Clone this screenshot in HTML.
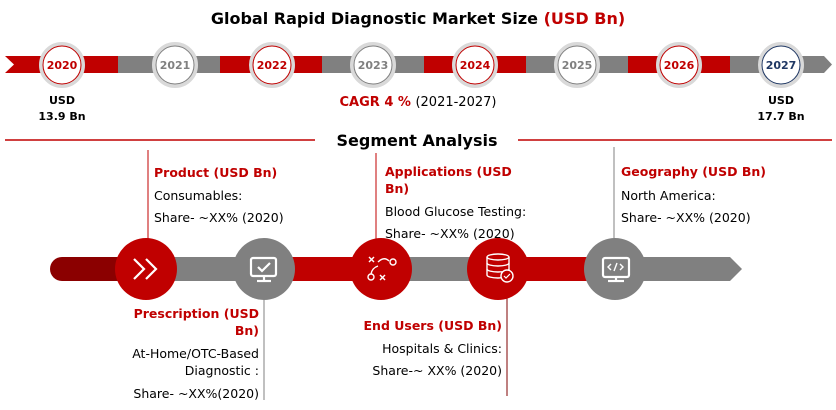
<!DOCTYPE html>
<html><head><meta charset="utf-8"><style>
body{margin:0;background:#fff;}
svg text{font-family:"DejaVu Sans","Liberation Sans",sans-serif;}
</style></head><body>
<svg width="836" height="405" viewBox="0 0 836 405" xmlns="http://www.w3.org/2000/svg">
<text x="418" y="24" text-anchor="middle" font-size="16" font-weight="bold" fill="#000">Global Rapid Diagnostic Market Size <tspan fill="#c00000">(USD Bn)</tspan></text>
<polygon points="5,56 118,56 118,73 5,73 14,64.5" fill="#c00000"/>
<rect x="118" y="56" width="102" height="17" fill="#808080"/>
<rect x="220" y="56" width="102" height="17" fill="#c00000"/>
<rect x="322" y="56" width="102" height="17" fill="#808080"/>
<rect x="424" y="56" width="102" height="17" fill="#c00000"/>
<rect x="526" y="56" width="102" height="17" fill="#808080"/>
<rect x="628" y="56" width="102" height="17" fill="#c00000"/>
<polygon points="730,56 824,56 832,64.5 824,73 730,73" fill="#808080"/>
<g font-size="11" font-weight="bold" text-anchor="middle">
<g fill="#fff" stroke="#d9d9d9" stroke-width="4">
<circle cx="62" cy="65" r="21"/><circle cx="175" cy="65" r="21"/><circle cx="272" cy="65" r="21"/><circle cx="373" cy="65" r="21"/>
<circle cx="475" cy="65" r="21"/><circle cx="577" cy="65" r="21"/><circle cx="679" cy="65" r="21"/><circle cx="781" cy="65" r="21"/>
</g>
<g fill="none" stroke-width="1">
<circle cx="62" cy="65" r="19" stroke="#c00000"/><circle cx="175" cy="65" r="19" stroke="#808080"/><circle cx="272" cy="65" r="19" stroke="#c00000"/><circle cx="373" cy="65" r="19" stroke="#808080"/>
<circle cx="475" cy="65" r="19" stroke="#c00000"/><circle cx="577" cy="65" r="19" stroke="#808080"/><circle cx="679" cy="65" r="19" stroke="#c00000"/><circle cx="781" cy="65" r="19" stroke="#203864"/>
</g>
<text x="62" y="69" fill="#c00000">2020</text><text x="175" y="69" fill="#808080">2021</text>
<text x="272" y="69" fill="#c00000">2022</text><text x="373" y="69" fill="#808080">2023</text>
<text x="475" y="69" fill="#c00000">2024</text><text x="577" y="69" fill="#808080">2025</text>
<text x="679" y="69" fill="#c00000">2026</text><text x="781" y="69" fill="#203864">2027</text>
<text x="62" y="104" fill="#000">USD</text><text x="62" y="120" fill="#000">13.9 Bn</text>
<text x="781" y="104" fill="#000">USD</text><text x="781" y="120" fill="#000">17.7 Bn</text>
</g>
<text x="418" y="106" text-anchor="middle" font-size="13"><tspan font-weight="bold" fill="#c00000">CAGR 4 % </tspan><tspan fill="#000">(2021-2027)</tspan></text>
<line x1="5" y1="140" x2="315" y2="140" stroke="#c00000" stroke-width="1.5"/>
<line x1="518" y1="140" x2="832" y2="140" stroke="#c00000" stroke-width="1.5"/>
<text x="417" y="146" text-anchor="middle" font-size="16" font-weight="bold" fill="#000">Segment Analysis</text>
<g stroke-width="1">
<line x1="148" y1="150" x2="148" y2="240" stroke="#c00000"/>
<line x1="376" y1="153" x2="376" y2="240" stroke="#c00000"/>
<line x1="614" y1="147" x2="614" y2="240" stroke="#808080"/>
<line x1="264" y1="298" x2="264" y2="400" stroke="#808080"/>
<line x1="507" y1="298" x2="507" y2="396" stroke="#7f0000"/>
</g>
<rect x="50" y="257" width="100" height="24" rx="12" fill="#8b0000"/>
<rect x="146" y="257" width="118" height="24" fill="#808080"/>
<rect x="264" y="257" width="117" height="24" fill="#c00000"/>
<rect x="381" y="257" width="117" height="24" fill="#808080"/>
<rect x="498" y="257" width="117" height="24" fill="#c00000"/>
<polygon points="615,257 730,257 742,269 730,281 615,281" fill="#808080"/>
<circle cx="146" cy="269" r="31" fill="#c00000"/>
<circle cx="264" cy="269" r="31" fill="#808080"/>
<circle cx="381" cy="269" r="31" fill="#c00000"/>
<circle cx="498" cy="269" r="31" fill="#c00000"/>
<circle cx="615" cy="269" r="31" fill="#808080"/>
<g stroke="#fff" stroke-width="2.2" fill="none">
<polyline points="134,259 144,269 134,279"/><polyline points="146,259 156,269 146,279"/>
<rect x="251" y="258" width="25" height="18" rx="2"/><line x1="264" y1="276" x2="264" y2="281"/><line x1="257" y1="281" x2="271" y2="281"/>
<polyline points="258,267 262,271 270,263"/>
<rect x="603" y="258" width="26" height="19" rx="2"/><line x1="616" y1="277" x2="616" y2="281"/><line x1="608" y1="281" x2="624" y2="281"/>
</g>
<g stroke="#fff" stroke-width="1.4" fill="none">
<polyline points="611,264 608,267 611,270"/><polyline points="620,264 623,267 620,270"/><line x1="617" y1="263" x2="614" y2="271"/>
<line x1="369" y1="257" x2="374" y2="262"/><line x1="374" y1="257" x2="369" y2="262"/>
<circle cx="393" cy="262" r="3"/><path d="M378,262 Q384,256 389,261"/>
<circle cx="371" cy="277" r="3"/><path d="M371,274 Q372,268 378,266"/>
<line x1="380" y1="275" x2="385" y2="280"/><line x1="385" y1="275" x2="380" y2="280"/>
<ellipse cx="498" cy="257" rx="11" ry="3"/><path d="M487,257 v18 a11,3 0 0 0 22,0 v-18"/><path d="M487,263 a11,3 0 0 0 22,0"/><path d="M487,269 a11,3 0 0 0 22,0"/>
</g>
<circle cx="507" cy="276" r="6" fill="#c00000" stroke="#fff" stroke-width="1.4"/>
<polyline points="504,276 506,278 510,274" stroke="#fff" stroke-width="1.2" fill="none"/>
<g font-size="12.5">
<text x="154" y="177" font-weight="bold" fill="#c00000">Product  (USD Bn)</text>
<text x="154" y="200" fill="#000">Consumables:</text>
<text x="154" y="222" fill="#000">Share- ~XX% (2020)</text>
<text x="385" y="176" font-weight="bold" fill="#c00000">Applications  (USD</text>
<text x="385" y="193" font-weight="bold" fill="#c00000">Bn)</text>
<text x="385" y="216" fill="#000">Blood Glucose Testing:</text>
<text x="385" y="238" fill="#000">Share- ~XX% (2020)</text>
<text x="621" y="176" font-weight="bold" fill="#c00000">Geography (USD Bn)</text>
<text x="621" y="200" fill="#000">North America:</text>
<text x="621" y="222" fill="#000">Share- ~XX% (2020)</text>
<g text-anchor="end">
<text x="259" y="318" font-weight="bold" fill="#c00000">Prescription (USD</text>
<text x="259" y="335" font-weight="bold" fill="#c00000">Bn)</text>
<text x="259" y="358" fill="#000">At-Home/OTC-Based</text>
<text x="259" y="375" fill="#000">Diagnostic :</text>
<text x="259" y="398" fill="#000">Share- ~XX%(2020)</text>
<text x="502" y="330" font-weight="bold" fill="#c00000">End Users (USD Bn)</text>
<text x="502" y="353" fill="#000">Hospitals &amp; Clinics:</text>
<text x="502" y="375" fill="#000">Share-~ XX% (2020)</text>
</g>
</g>
</svg>
</body></html>
